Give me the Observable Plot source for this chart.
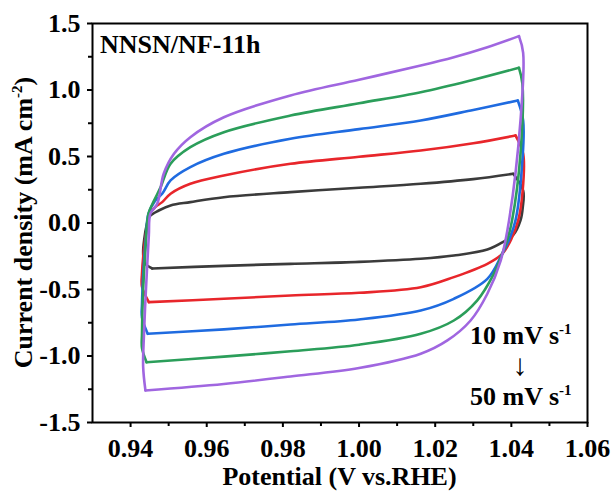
<!DOCTYPE html>
<html>
<head>
<meta charset="utf-8">
<script src="https://cdn.jsdelivr.net/npm/d3@7"></script>
<script src="https://cdn.jsdelivr.net/npm/@observablehq/plot@0.6"></script>
<style>
  html, body { margin: 0; padding: 0; background: #fff; }
</style>
</head>
<body>
<div id="chart"></div>
<script>
// Scan rates and colours
const rates = ["10", "20", "30", "40", "50"];
const colors = ["#3b3b3b", "#e8262b", "#1f6be0", "#2b9e5a", "#a066e0"];

// CV loops (potential V vs RHE, current density mA cm^-2)
const v10 = [0.9457, 0.9437, 0.9433, 0.9436, 0.9442, 0.9450, 0.9474, 0.9505, 0.9557, 0.9645, 0.982, 1.000, 1.0162, 1.030, 1.0405, 1.0431, 1.0430, 1.0424, 1.0405, 1.0380, 1.0337, 1.0249, 1.0162, 1.000, 0.982, 0.9645, 0.9457];
const j10 = [-0.342, -0.30, -0.22, -0.12, -0.02, 0.05, 0.094, 0.132, 0.157, 0.194, 0.232, 0.265, 0.295, 0.33, 0.37, 0.244, 0.12, 0.02, -0.09, -0.14, -0.20, -0.245, -0.269, -0.292, -0.307, -0.322, -0.342];

const v20 = [0.9448, 0.9430, 0.9430, 0.9435, 0.9442, 0.9450, 0.9465, 0.9483, 0.9505, 0.9557, 0.9645, 0.982, 1.000, 1.0162, 1.030, 1.0411, 1.0431, 1.0429, 1.0418, 1.0400, 1.0376, 1.0337, 1.0249, 1.0162, 1.000, 0.982, 0.9645, 0.9448];
const j20 = [-0.595, -0.48, -0.38, -0.20, -0.05, 0.07, 0.12, 0.157, 0.22, 0.295, 0.357, 0.445, 0.498, 0.545, 0.60, 0.658, 0.52, 0.22, 0.02, -0.12, -0.232, -0.307, -0.407, -0.483, -0.525, -0.545, -0.57, -0.595];

const v30 = [0.9445, 0.9430, 0.9430, 0.9434, 0.9440, 0.9447, 0.9465, 0.9483, 0.9505, 0.9557, 0.9645, 0.982, 1.000, 1.0162, 1.030, 1.0417, 1.0431, 1.0429, 1.0411, 1.0395, 1.0376, 1.0337, 1.0249, 1.0162, 1.000, 0.982, 0.9645, 0.9445];
const j30 = [-0.833, -0.71, -0.61, -0.35, -0.12, 0.07, 0.17, 0.22, 0.32, 0.42, 0.52, 0.633, 0.706, 0.771, 0.85, 0.921, 0.77, 0.47, 0.02, -0.12, -0.232, -0.42, -0.57, -0.658, -0.725, -0.763, -0.80, -0.833];

const v40 = [0.9442, 0.9430, 0.9430, 0.9433, 0.9439, 0.9447, 0.9462, 0.9479, 0.9505, 0.9557, 0.9645, 0.982, 1.000, 1.0162, 1.0293, 1.0420, 1.0429, 1.0424, 1.0402, 1.0390, 1.0376, 1.0354, 1.0310, 1.0249, 1.0162, 1.000, 0.982, 0.9645, 0.9442];
const j40 = [-1.047, -0.94, -0.83, -0.50, -0.20, 0.07, 0.17, 0.27, 0.445, 0.57, 0.683, 0.808, 0.90, 0.983, 1.071, 1.167, 1.047, 0.52, 0.02, -0.12, -0.232, -0.382, -0.583, -0.733, -0.833, -0.915, -0.964, -1.005, -1.047];

const v50 = [0.9439, 0.9433, 0.9435, 0.9439, 0.9444, 0.9448, 0.9452, 0.9470, 0.9487, 0.9514, 0.9557, 0.9645, 0.982, 1.000, 1.0162, 1.0249, 1.0337, 1.0420, 1.0431, 1.0424, 1.0394, 1.0372, 1.0337, 1.0293, 1.0232, 1.0162, 1.000, 0.982, 0.9645, 0.9439];
const j50 = [-1.259, -1.08, -0.85, -0.58, -0.30, -0.09, 0.07, 0.144, 0.37, 0.52, 0.645, 0.795, 0.959, 1.077, 1.184, 1.247, 1.322, 1.405, 1.28, 0.77, 0.02, -0.282, -0.532, -0.733, -0.883, -0.983, -1.09, -1.154, -1.21, -1.259];

// Axis ticks
const xTicks = [0.94, 0.96, 0.98, 1.00, 1.02, 1.04, 1.06];
const xMinor = [0.95, 0.97, 0.99, 1.01, 1.03, 1.05];
const yTicks = [-1.5, -1.0, -0.5, 0.0, 0.5, 1.0, 1.5];
const yMinor = [-1.25, -0.75, -0.25, 0.25, 0.75, 1.25];

// Text
const sampleLabel = "NNSN/NF-11h";
const xTitle = "Potential (V vs.RHE)";
const yTitleMain = "Current density (mA cm";
const yTitleSup = "-2";
const rateFrom = "10 mV s";
const rateTo = "50 mV s";
const rateSup = "-1";

// Build rows; each loop is split at its anodic vertex (max current) so that
// the vertices stay sharp while the branches are smoothed.
const loops = [[v10, j10], [v20, j20], [v30, j30], [v40, j40], [v50, j50]];
const rows = [];
loops.forEach(([vs, js], k) => {
  const top = js.indexOf(Math.max(...js));
  vs.forEach((v, i) => {
    if (i <= top) rows.push({rate: rates[k], seg: rates[k] + "a", v, j: js[i]});
    if (i >= top) rows.push({rate: rates[k], seg: rates[k] + "b", v, j: js[i]});
  });
});

const font = "'Liberation Serif', 'Times New Roman', serif";

const chart = Plot.plot({
  width: 614,
  height: 492,
  marginLeft: 92,
  marginRight: 27,
  marginTop: 23,
  marginBottom: 70,
  x: {domain: [0.93, 1.06]},
  y: {domain: [-1.5, 1.5]},
  color: {domain: rates, range: colors},
  style: {fontFamily: font, fontSize: "26px", fontWeight: "bold", color: "#000", background: "#fff", overflow: "visible"},
  marks: [
    Plot.line(rows, {x: "v", y: "j", z: "seg", stroke: "rate", strokeWidth: 2.6, strokeLinejoin: "round", strokeLinecap: "round", curve: "catmull-rom"}),
    Plot.frame({stroke: "#000", strokeWidth: 2}),
    Plot.axisX({ticks: xTicks, tickFormat: d => d.toFixed(2), tickSize: 5, tickPadding: 11, strokeWidth: 2, label: null}),
    Plot.axisX({ticks: xMinor, tickFormat: () => "", tickSize: 4, strokeWidth: 2, label: null}),
    Plot.axisY({ticks: yTicks, tickFormat: d => d.toFixed(1), tickSize: 5, tickPadding: 7, strokeWidth: 2, label: null}),
    Plot.axisY({ticks: yMinor, tickFormat: () => "", tickSize: 4, strokeWidth: 2, label: null})
  ]
});

const svg = d3.select(chart);
const fx = chart.scale("x"), fy = chart.scale("y");
const cx = (fx.range[0] + fx.range[1]) / 2;
const cy = (fy.range[0] + fy.range[1]) / 2;

const g = svg.append("g").attr("font-family", font).attr("font-weight", "bold").attr("fill", "#000").attr("text-anchor", "start");

g.append("text").attr("x", cx).attr("y", 485).attr("text-anchor", "middle").attr("font-size", 26).text(xTitle);

const yt = g.append("text").attr("transform", `translate(32,${cy}) rotate(-90)`).attr("text-anchor", "middle").attr("font-size", 26);
yt.append("tspan").text(yTitleMain);
yt.append("tspan").attr("font-size", 15).attr("dy", -10).text(yTitleSup);
yt.append("tspan").attr("dy", 10).text(")");

g.append("text").attr("x", 100).attr("y", 53).attr("text-anchor", "start").attr("font-size", 26).text(sampleLabel);

const t1 = g.append("text").attr("x", 470).attr("y", 344).attr("text-anchor", "start").attr("font-size", 26);
t1.append("tspan").text(rateFrom);
t1.append("tspan").attr("font-size", 15).attr("dy", -10).text(rateSup);

g.append("text").attr("x", 520).attr("y", 375).attr("text-anchor", "middle").attr("font-size", 30).attr("font-weight", "normal").text("\u2193");

const t2 = g.append("text").attr("x", 470).attr("y", 405).attr("text-anchor", "start").attr("font-size", 26);
t2.append("tspan").text(rateTo);
t2.append("tspan").attr("font-size", 15).attr("dy", -10).text(rateSup);

document.getElementById("chart").appendChild(chart);
</script>
</body>
</html>
